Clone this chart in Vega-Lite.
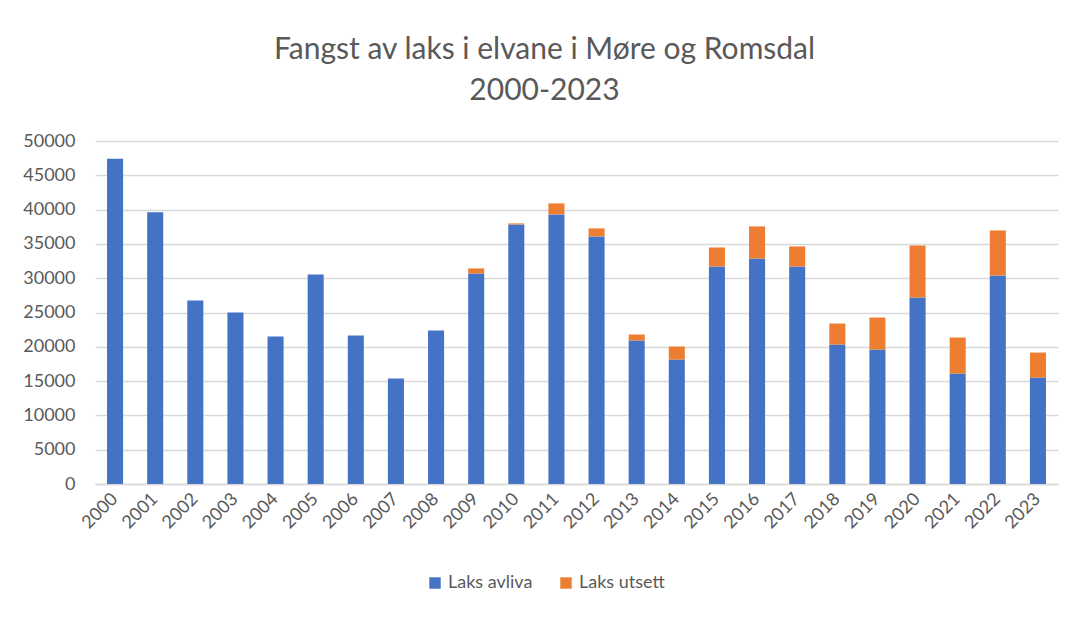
{
  "$schema": "https://vega.github.io/schema/vega-lite/v6.json",
  "autosize": {"type": "none"},
  "padding": {"left": 95, "top": 141, "right": 31, "bottom": 144},
  "width": 963,
  "height": 343,
  "background": "white",
  "title": {
    "text": ["Fangst av laks i elvane i Møre og Romsdal", "2000-2023"],
    "fontSize": 30,
    "font": "Lato",
    "fontWeight": "normal",
    "color": "#595959",
    "lineHeight": 41,
    "offset": 26,
    "dx": -32,
    "anchor": "middle"
  },
  "data": {
    "values": [
      {"year": "2000", "series": "Laks avliva", "count": 47400},
      {"year": "2001", "series": "Laks avliva", "count": 39600},
      {"year": "2002", "series": "Laks avliva", "count": 26750},
      {"year": "2003", "series": "Laks avliva", "count": 25000},
      {"year": "2004", "series": "Laks avliva", "count": 21500},
      {"year": "2005", "series": "Laks avliva", "count": 30550},
      {"year": "2006", "series": "Laks avliva", "count": 21650},
      {"year": "2007", "series": "Laks avliva", "count": 15370},
      {"year": "2008", "series": "Laks avliva", "count": 22370},
      {"year": "2009", "series": "Laks avliva", "count": 30690},
      {"year": "2009", "series": "Laks utsett", "count": 730},
      {"year": "2010", "series": "Laks avliva", "count": 37840},
      {"year": "2010", "series": "Laks utsett", "count": 150},
      {"year": "2011", "series": "Laks avliva", "count": 39300},
      {"year": "2011", "series": "Laks utsett", "count": 1600},
      {"year": "2012", "series": "Laks avliva", "count": 36090},
      {"year": "2012", "series": "Laks utsett", "count": 1170},
      {"year": "2013", "series": "Laks avliva", "count": 20910},
      {"year": "2013", "series": "Laks utsett", "count": 880},
      {"year": "2014", "series": "Laks avliva", "count": 18140},
      {"year": "2014", "series": "Laks utsett", "count": 1900},
      {"year": "2015", "series": "Laks avliva", "count": 31710},
      {"year": "2015", "series": "Laks utsett", "count": 2770},
      {"year": "2016", "series": "Laks avliva", "count": 32880},
      {"year": "2016", "series": "Laks utsett", "count": 4670},
      {"year": "2017", "series": "Laks avliva", "count": 31710},
      {"year": "2017", "series": "Laks utsett", "count": 2920},
      {"year": "2018", "series": "Laks avliva", "count": 20330},
      {"year": "2018", "series": "Laks utsett", "count": 3060},
      {"year": "2019", "series": "Laks avliva", "count": 19600},
      {"year": "2019", "series": "Laks utsett", "count": 4670},
      {"year": "2020", "series": "Laks avliva", "count": 27190},
      {"year": "2020", "series": "Laks utsett", "count": 7590},
      {"year": "2021", "series": "Laks avliva", "count": 16100},
      {"year": "2021", "series": "Laks utsett", "count": 5250},
      {"year": "2022", "series": "Laks avliva", "count": 30400},
      {"year": "2022", "series": "Laks utsett", "count": 6560},
      {"year": "2023", "series": "Laks avliva", "count": 15520},
      {"year": "2023", "series": "Laks utsett", "count": 3640}
    ]
  },
  "mark": {"type": "bar"},
  "encoding": {
    "x": {
      "field": "year",
      "type": "ordinal",
      "scale": {"paddingInner": 0.6, "paddingOuter": 0.3},
      "axis": {
        "title": null,
        "labelAngle": -45,
        "labelAlign": "right",
        "labelBaseline": "middle",
        "labelPadding": 12,
        "ticks": false,
        "domain": true,
        "domainColor": "#d9d9d9",
        "domainWidth": 1.5
      }
    },
    "y": {
      "field": "count",
      "type": "quantitative",
      "stack": "zero",
      "scale": {"domain": [0, 50000]},
      "axis": {
        "title": null,
        "values": [0, 5000, 10000, 15000, 20000, 25000, 30000, 35000, 40000, 45000, 50000],
        "format": "d",
        "ticks": false,
        "domain": false,
        "labelPadding": 20,
        "grid": true,
        "gridColor": "#d9d9d9",
        "gridWidth": 1.5
      }
    },
    "color": {
      "field": "series",
      "type": "nominal",
      "scale": {
        "domain": ["Laks avliva", "Laks utsett"],
        "range": ["#4472C4", "#ED7D31"]
      },
      "legend": {
        "title": null,
        "orient": "none",
        "direction": "horizontal",
        "legendX": 331,
        "legendY": 433,
        "symbolType": "square",
        "symbolSize": 130,
        "symbolStrokeWidth": 0,
        "labelFontSize": 18,
        "columnPadding": 24
      }
    },
    "order": {"field": "series", "sort": "ascending"}
  },
  "config": {
    "font": "Lato",
    "view": {"stroke": null},
    "axis": {
      "labelFont": "Lato",
      "labelFontSize": 18,
      "labelColor": "#595959"
    },
    "legend": {
      "labelFont": "Lato",
      "labelColor": "#595959"
    }
  }
}
